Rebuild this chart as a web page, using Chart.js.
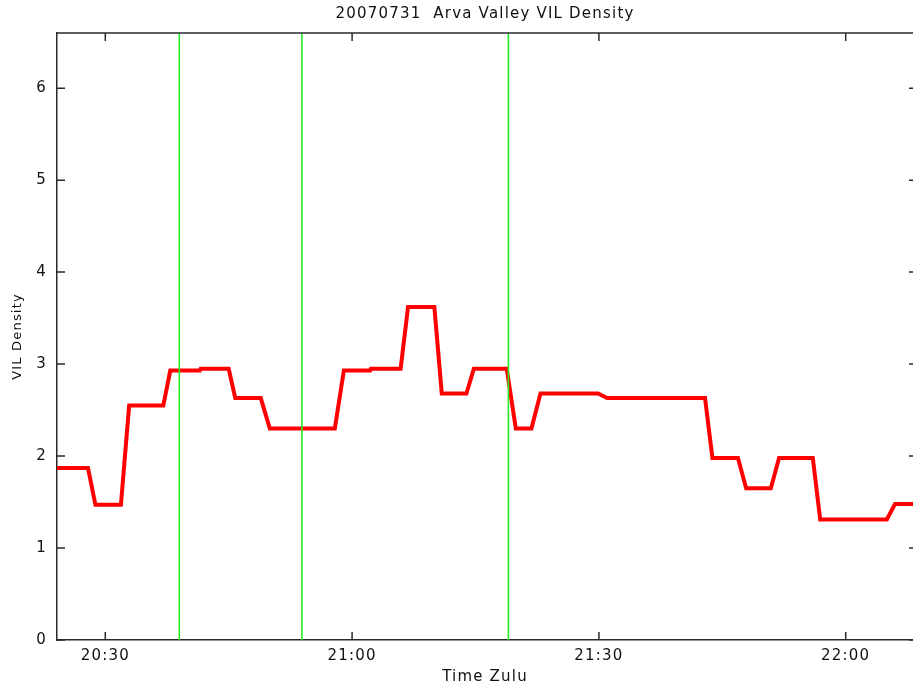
<!DOCTYPE html>
<html>
<head>
<meta charset="utf-8">
<script src="https://cdn.jsdelivr.net/npm/chart.js@4"></script>
<style>
  html, body { margin: 0; padding: 0; background: #fff; }
  canvas { display: block; }
</style>
</head>
<body>
<canvas id="vilChart" width="913" height="689"></canvas>
<script>
// temps en minutes depuis 20:00 Z
const timeMinutes = [24.1, 27.9, 28.8, 31.9, 32.9, 37.05, 37.9, 41.5, 41.6, 45.0,
  45.8, 48.9, 50.0, 57.9, 59.0, 62.2, 62.3, 65.9, 66.8, 70.0,
  70.9, 73.9, 74.8, 78.8, 79.9, 81.8, 82.9, 89.9, 91.0, 102.9,
  103.8, 106.9, 107.9, 110.9, 111.9, 116.0, 116.9, 125.0, 126.0, 128.3];
const vilDensity = [1.87, 1.87, 1.47, 1.47, 2.55, 2.55, 2.93, 2.93, 2.95, 2.95,
  2.63, 2.63, 2.30, 2.30, 2.93, 2.93, 2.95, 2.95, 3.62, 3.62,
  2.68, 2.68, 2.95, 2.95, 2.30, 2.30, 2.68, 2.68, 2.63, 2.63,
  1.98, 1.98, 1.65, 1.65, 1.98, 1.98, 1.31, 1.31, 1.48, 1.48];
const markerMinutes = [39.0, 53.9, 79.0];   // lignes vertes
const tickMinutes = [30, 60, 90, 120];
const tickLabels = ['20:30', '21:00', '21:30', '22:00'];
const yTicks = [0, 1, 2, 3, 4, 5, 6];

const X_MIN = 24.13, X_MAX = 128.18, Y_MAX = 6.6;
const FONT = { family: 'DejaVu Sans', size: 15 };
const AXIS_COLOR = '#2a2a2a';

const datasets = markerMinutes.map(m => ({
  data: [{ x: m, y: 0 }, { x: m, y: Y_MAX }],
  borderColor: '#22ee22',
  borderWidth: 1.6,
  pointRadius: 0
}));
datasets.push({
  data: timeMinutes.map((t, i) => ({ x: t, y: vilDensity[i] })),
  borderColor: '#ff0000',
  borderWidth: 4,
  pointRadius: 0,
  borderJoinStyle: 'miter'
});

// petits traits de graduation vers l'intérieur (style matlab) + cadre haut
const frameTicks = {
  id: 'frameTicks',
  beforeDraw(chart) {
    chart.ctx.letterSpacing = '1.2px';
  },
  afterDraw(chart) {
    const { ctx, chartArea: a, scales: { x, y } } = chart;
    const len = 8;
    ctx.save();
    ctx.strokeStyle = AXIS_COLOR;
    ctx.lineWidth = 1.5;
    ctx.beginPath();
    ctx.moveTo(a.left, a.top);
    ctx.lineTo(a.right, a.top);
    x.ticks.forEach(t => {
      const px = x.getPixelForValue(t.value);
      ctx.moveTo(px, a.bottom); ctx.lineTo(px, a.bottom - len);
      ctx.moveTo(px, a.top); ctx.lineTo(px, a.top + len);
    });
    y.ticks.forEach(t => {
      const py = y.getPixelForValue(t.value);
      ctx.moveTo(a.left, py); ctx.lineTo(a.left + len, py);
      ctx.moveTo(a.right, py); ctx.lineTo(a.right - len + 4, py);
    });
    ctx.stroke();
    ctx.restore();
  }
};

new Chart(document.getElementById('vilChart'), {
  type: 'line',
  data: { datasets },
  plugins: [frameTicks],
  options: {
    responsive: false,
    animation: false,
    layout: { padding: 0 },
    plugins: {
      legend: { display: false },
      tooltip: { enabled: false }
    },
    scales: {
      x: {
        type: 'linear',
        min: X_MIN,
        max: X_MAX,
        grid: { display: false, drawTicks: false },
        border: { display: true, color: AXIS_COLOR, width: 1.5 },
        afterBuildTicks: s => { s.ticks = tickMinutes.map(v => ({ value: v })); },
        afterFit: s => { s.height = 49; },
        ticks: {
          color: '#111',
          font: FONT,
          padding: 7,
          maxRotation: 0,
          callback: v => tickLabels[tickMinutes.indexOf(v)]
        },
        title: {
          display: true,
          text: 'Time Zulu',
          color: '#111',
          font: FONT,
          padding: { top: 0, bottom: 3 }
        }
      },
      // axe du haut : sert seulement au titre, centré sur la zone du graphe
      xTop: {
        type: 'linear',
        position: 'top',
        min: X_MIN,
        max: X_MAX,
        grid: { display: false, drawTicks: false },
        border: { display: false },
        ticks: { display: false },
        afterFit: s => { s.height = 33; },
        title: {
          display: true,
          text: '20070731  Arva Valley VIL Density',
          color: '#111',
          font: FONT,
          padding: { top: 5.5, bottom: 0 }
        }
      },
      y: {
        min: 0,
        max: Y_MAX,
        grid: { display: false, drawTicks: false },
        border: { display: true, color: AXIS_COLOR, width: 1.5 },
        afterBuildTicks: s => { s.ticks = yTicks.map(v => ({ value: v })); },
        afterFit: s => { s.width = 57; },
        ticks: { color: '#111', font: FONT, padding: 10 },
        title: {
          display: true,
          text: 'VIL Density',
          color: '#111',
          font: { family: 'DejaVu Sans', size: 13 },
          padding: { top: 10, bottom: 0 }
        }
      }
    }
  }
});
</script>
</body>
</html>
